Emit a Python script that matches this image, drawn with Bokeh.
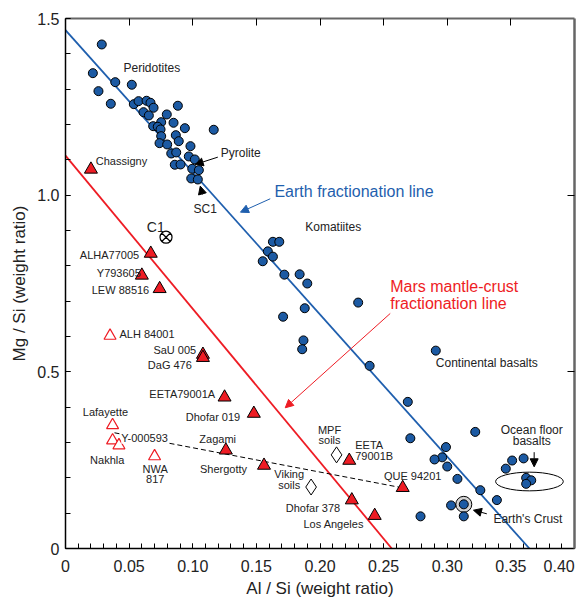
from bokeh.plotting import figure
from bokeh.models import (Range1d, FixedTicker, LinearAxis, Arrow, NormalHead, Label,
                          CustomLabelingPolicy)
from bokeh.embed import file_html
from bokeh.resources import INLINE
from bokeh.core.properties import value

# ---------------- data ----------------
peridotite_x = [0.0285, 0.0215, 0.0259, 0.0391, 0.0521, 0.0356, 0.0537, 0.0574, 0.0637, 0.0668,
                0.0692, 0.0613, 0.0655, 0.0883, 0.0796, 0.0752, 0.0849, 0.0689, 0.0725, 0.0747,
                0.0938, 0.1165, 0.0752, 0.0867, 0.0890, 0.0739, 0.0799, 0.0982, 0.0831, 0.0870,
                0.0969, 0.1016, 0.0859, 0.0904, 0.0996, 0.1048, 0.0988, 0.1040]
peridotite_y = [1.4265, 1.3453, 1.2944, 1.3198, 1.3125, 1.2587, 1.2576, 1.2661, 1.2672, 1.2615,
                1.2474, 1.2349, 1.2256, 1.2531, 1.2284, 1.2066, 1.2049, 1.1953, 1.1936, 1.1860,
                1.1896, 1.1851, 1.1670, 1.1698, 1.1528, 1.1472, 1.1435, 1.1387, 1.1180, 1.1209,
                1.1096, 1.1011, 1.0861, 1.0869, 1.0747, 1.0708, 1.0473, 1.0444]
komatiite_x = [0.163, 0.168, 0.159, 0.163, 0.155, 0.172, 0.184, 0.190, 0.230, 0.188, 0.171, 0.187, 0.186, 0.239]
komatiite_y = [0.868, 0.868, 0.841, 0.826, 0.813, 0.775, 0.776, 0.750, 0.696, 0.680, 0.656, 0.589, 0.564, 0.517]
continental_x = [0.291]
continental_y = [0.560]
basalt_x = [0.269, 0.271, 0.322, 0.299, 0.296, 0.290, 0.300, 0.308, 0.326, 0.339, 0.303, 0.313, 0.279]
basalt_y = [0.415, 0.312, 0.330, 0.287, 0.258, 0.252, 0.232, 0.197, 0.165, 0.137, 0.122, 0.091, 0.091]
ocean_x = [0.346, 0.351, 0.360, 0.362, 0.366, 0.362]
ocean_y = [0.226, 0.249, 0.255, 0.200, 0.193, 0.183]
crust_x = [0.313]
crust_y = [0.125]

mars_names = ["Chassigny", "ALHA77005", "Y793605", "LEW 88516", "SaU 005", "DaG 476",
              "EETA79001A", "Dhofar 019", "Zagami", "Shergotty", "EETA79001B", "QUE 94201",
              "Dhofar 378", "Los Angeles"]
mars_x = [0.020, 0.067, 0.060, 0.074, 0.108, 0.108, 0.125, 0.148, 0.126, 0.156, 0.223, 0.265, 0.225, 0.243]
mars_y = [1.073, 0.835, 0.773, 0.735, 0.549, 0.540, 0.428, 0.382, 0.278, 0.235, 0.249, 0.172, 0.137, 0.093]

nakhlite_names = ["ALH 84001", "Lafayette", "Y-000593", "Nakhla", "NWA 817"]
nakhlite_x = [0.035, 0.037, 0.037, 0.042, 0.070]
nakhlite_y = [0.602, 0.349, 0.306, 0.292, 0.261]

soil_names = ["MPF soils", "Viking soils"]
soil_x = [0.213, 0.193]
soil_y = [0.265, 0.174]

c1_x = [0.079]
c1_y = [0.881]

earth_line_x = [0.0, 0.3646]
earth_line_y = [1.467, 0.0]
mars_line_x = [0.0, 0.2564]
mars_line_y = [1.112, 0.0]
mixing_x = [0.0385, 0.2646]
mixing_y = [0.3275, 0.1718]

ocean_ellipse = dict(x=0.3646, y=0.1896, w=0.0532, h=0.0529)

x_ticks = [0.0, 0.05, 0.10, 0.15, 0.20, 0.25, 0.30, 0.35, 0.40]
x_tick_labels = ["0", "0.05", "0.10", "0.15", "0.20", "0.25", "0.30", "0.35",
                 "0.40\u00a0\u00a0\u00a0\u00a0"]
y_ticks = [0.0, 0.5, 1.0, 1.5]
y_tick_labels = ["0", "0.5", "1.0", "1.5"]

# ---------------- styles ----------------
FONT = "Liberation Sans"
BLUE_DOT = "#1c5aa3"
BLUE_LINE = "#1f5fae"
RED = "#ee1c24"
TXT = "#222222"

p = figure(frame_width=509, frame_height=530,
           x_range=Range1d(0, 0.4), y_range=Range1d(0, 1.5),
           output_backend="svg", toolbar_location=None,
           min_border_left=65, min_border_top=18, min_border_right=4, min_border_bottom=44,
           background_fill_color="white", border_fill_color="white")
p.outline_line_color = None
p.xgrid.visible = False
p.ygrid.visible = False

# bottom axis
xa = p.xaxis[0]
xa.ticker = FixedTicker(ticks=x_ticks, minor_ticks=[round(0.01 * i, 2) for i in range(41)])
xa.major_label_overrides = {t: l for t, l in zip(x_ticks, x_tick_labels)}
xa.major_tick_in = 5
xa.major_tick_out = 0
xa.minor_tick_in = 5
xa.minor_tick_out = 0
xa.axis_line_width = 1.5
xa.major_label_standoff = 9
xa.major_label_text_font = FONT
xa.major_label_text_font_size = "16px"
xa.major_label_text_color = TXT
xa.axis_label = "Al / Si (weight ratio)"
xa.axis_label_text_font = FONT
xa.axis_label_text_font_size = "17px"
xa.axis_label_text_font_style = "normal"
xa.axis_label_text_color = TXT
xa.axis_label_standoff = 1

# left axis
ya = p.yaxis[0]
ya.ticker = FixedTicker(ticks=y_ticks, minor_ticks=[round(0.1 * i, 1) for i in range(16)])
ya.major_label_overrides = {t: l for t, l in zip(y_ticks, y_tick_labels)}
ya.major_tick_in = 5
ya.major_tick_out = 0
ya.minor_tick_in = 5
ya.minor_tick_out = 0
ya.axis_line_width = 1.5
ya.major_label_standoff = 6
ya.major_label_text_font = FONT
ya.major_label_text_font_size = "16px"
ya.major_label_text_color = TXT
ya.axis_label = "Mg / Si (weight ratio)"
ya.axis_label_text_font = FONT
ya.axis_label_text_font_size = "17px"
ya.axis_label_text_font_style = "normal"
ya.axis_label_text_color = TXT
ya.axis_label_standoff = 5

# top and right frame axes (ticks only, no labels)
top = LinearAxis(ticker=FixedTicker(ticks=x_ticks[1:-1]), major_tick_in=7, major_tick_out=0,
                 minor_tick_in=0, minor_tick_out=0, axis_line_color="#666666", axis_line_width=2,
                 major_label_policy=CustomLabelingPolicy(code="return []"), major_label_standoff=0)
p.add_layout(top, "above")
right = LinearAxis(ticker=FixedTicker(ticks=[0.5, 1.0]), major_tick_in=7, major_tick_out=0,
                   minor_tick_in=0, minor_tick_out=0, axis_line_color="#666666", axis_line_width=2.5,
                   major_label_policy=CustomLabelingPolicy(code="return []"), major_label_standoff=0)
p.add_layout(right, "right")

# fractionation lines
p.line(earth_line_x, earth_line_y, line_color=BLUE_LINE, line_width=1.8)
p.line(mars_line_x, mars_line_y, line_color=RED, line_width=1.8)
p.line(mixing_x, mixing_y, line_color="black", line_width=1, line_dash="5 3")

# ocean floor ellipse
p.ellipse(x=[ocean_ellipse["x"]], y=[ocean_ellipse["y"]], width=[ocean_ellipse["w"]],
          height=[ocean_ellipse["h"]], fill_color=None, line_color="black", line_width=1)

# Earth's crust ring
p.scatter(crust_x, crust_y, marker="circle", size=16, fill_color="#d4d4d4", line_color="black", line_width=1)

# terrestrial points
for xs, ys in [(peridotite_x, peridotite_y), (komatiite_x, komatiite_y), (continental_x, continental_y),
               (basalt_x, basalt_y), (ocean_x, ocean_y), (crust_x, crust_y)]:
    p.scatter(xs, ys, marker="circle", size=9, fill_color=BLUE_DOT, line_color="black", line_width=1)

# Martian meteorites
p.scatter(mars_x, mars_y, marker="triangle", size=13, fill_color=RED, line_color="black", line_width=1)
p.scatter(nakhlite_x, nakhlite_y, marker="triangle", size=12, fill_color="white", line_color=RED, line_width=1.2)
p.scatter(soil_x, soil_y, marker="diamond", size=16, fill_color="white", line_color="black", line_width=1)
p.scatter(c1_x, c1_y, marker="circle_x", size=12, fill_color="white", line_color="black", line_width=1.2)


def add_text(xs, ys, texts, size="11px", color=TXT, align="left"):
    p.text(x=xs, y=ys, text=texts, text_font=value(FONT), text_font_size=size,
           text_color=color, text_align=align, text_baseline="middle")


# labels (earth rocks, 12px)
add_text([0.0456, 0.1220, 0.1884, 0.2910, 0.3363],
         [1.3606, 1.1200, 0.9094, 0.5256, 0.0841],
         ["Peridotites", "Pyrolite", "Komatiites", "Continental basalts", "Earth's Crust"], size="12px")
add_text([0.1098, 0.3664, 0.3664], [0.9595, 0.3340, 0.3037], ["SC1", "Ocean floor", "basalts"],
         size="12px", align="center")
add_text([0.0639], [0.9106], ["C1"], size="14px")
add_text([0.1642], [1.0113], ["Earth fractionation line"], size="16px", color=BLUE_LINE)
add_text([0.2552, 0.2552], [0.7424, 0.6926], ["Mars mantle-crust", "fractionation line"], size="16px", color=RED)

# meteorite labels
add_text([0.0238, 0.0424, 0.2277, 0.2277], [1.0962, 0.6057, 0.2924, 0.2613],
         ["Chassigny", "ALH 84001", "EETA", "79001B"])
add_text([0.0579, 0.0592, 0.0658, 0.1027, 0.0993, 0.1176, 0.1373],
         [0.8293, 0.7784, 0.7311, 0.5604, 0.5188, 0.4359, 0.3716],
         ["ALHA77005", "Y793605", "LEW 88516", "SaU 005", "DaG 476", "EETA79001A", "Dhofar 019"],
         align="right")
add_text([0.0314, 0.0328, 0.0705, 0.0705, 0.1196, 0.1242, 0.1758, 0.1758, 0.2075, 0.2075,
          0.2728, 0.1945, 0.2108],
         [0.3869, 0.2499, 0.2236, 0.1973, 0.3105, 0.2256, 0.2114, 0.1803, 0.3348, 0.3065,
          0.2046, 0.1152, 0.0699],
         ["Lafayette", "Nakhla", "NWA", "817", "Zagami", "Shergotty", "Viking", "soils", "MPF", "soils",
          "QUE 94201", "Dhofar 378", "Los Angeles"], align="center")
p.add_layout(Label(x=0.0438, y=0.3133, text="Y-000593", text_font=FONT, text_font_size="11px",
                   text_color=TXT, text_baseline="middle", text_align="left",
                   background_fill_color="white"))

# arrows
arrows = [
    ((0.1609, 0.9898), (0.1375, 0.9519), BLUE_LINE),
    ((0.2552, 0.6652), (0.1727, 0.3983), RED),
    ((0.1197, 1.1076), (0.1019, 1.0869), "black"),
    ((0.1077, 1.0020), (0.1059, 1.0255), "black"),
    ((0.3311, 0.0982), (0.3206, 0.1084), "black"),
    ((0.3683, 0.2726), (0.3683, 0.2312), "black"),
]
for (x0, y0), (x1, y1), c in arrows:
    p.add_layout(Arrow(end=NormalHead(size=8, line_color=c, fill_color=c, line_width=1),
                       x_start=x0, y_start=y0, x_end=x1, y_end=y1, line_color=c, line_width=1))

open("out.html", "w").write(file_html(p, INLINE))
